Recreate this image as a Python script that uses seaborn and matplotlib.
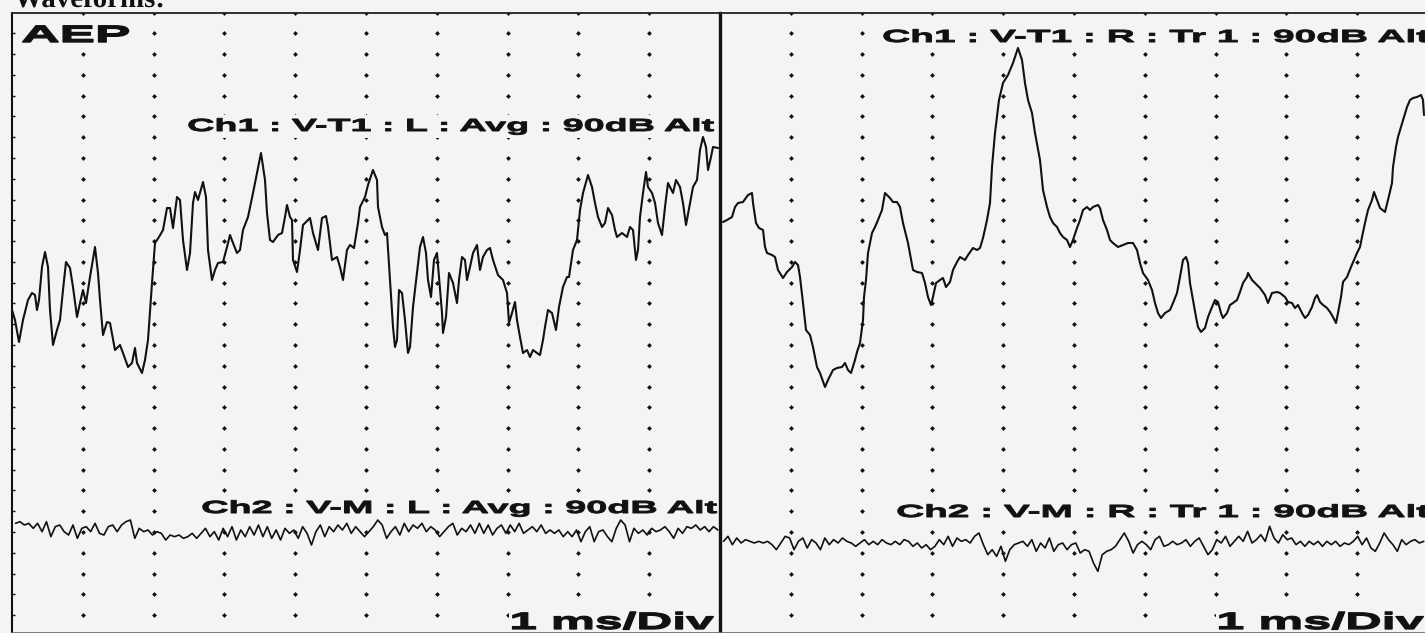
import numpy as np
import pandas as pd
import matplotlib
matplotlib.use("Agg")
import matplotlib.pyplot as plt
import matplotlib.colors as mcolors
from matplotlib.patheffects import AbstractPathEffect
from matplotlib.transforms import Affine2D
from matplotlib.path import Path
import seaborn as sns

# ---------------- data ----------------
# time axis: samples, 708 samples = 10 ms (1 ms/Div, 10 Div per panel)
SAMPLES_PER_10MS = 708.0

# Ch1 : V-T1 : L : Avg  (sample index, amplitude in display units; 20.78 units = 1 Div)
ch1_left_sample = [0, 3, 7, 11, 16, 20, 23, 25, 27, 30, 33, 36, 38, 41, 45, 48, 51, 54, 58, 61,
                   65, 68, 71, 74, 78, 83, 86, 88, 91, 95, 98, 103, 108, 111, 116, 120, 123, 125, 130, 133,
                   136, 140, 143, 147, 151, 155, 158, 161, 165, 168, 171, 175, 178, 181, 183, 186, 191, 194, 196, 200,
                   203, 206, 211, 215, 218, 221, 225, 228, 231, 236, 241, 245, 249, 253, 255, 258, 261, 266, 270, 273,
                   275, 278, 280, 281, 285, 288, 291, 298, 301, 306, 310, 314, 316, 320, 325, 328, 331, 335, 338, 342,
                   346, 348,
                   353, 356, 361, 365, 366, 370, 373, 375, 378, 381, 383, 385, 387, 390, 393, 396, 398, 401, 405, 408,
                   411, 414, 416, 419, 422, 425, 427, 430, 431, 434, 437, 441, 445, 447, 450, 453, 455, 458, 461, 465,
                   468, 471, 475, 478, 481, 486, 491, 495, 497, 500, 503, 505, 508, 511, 515, 518, 521, 525, 528, 531,
                   533, 536, 540, 544, 547, 551, 555, 557, 561, 565, 568, 571, 576, 580, 583, 586, 590, 593, 596, 600,
                   603, 605, 610, 615, 618, 621, 624, 626, 628, 631, 634, 636, 640, 643, 646, 650, 653, 656, 661, 664,
                   668, 671, 674, 678, 681, 685, 688, 691, 694, 696, 699, 701, 706]
ch1_left_amp = [90, 80, 58, 80, 100, 107, 105, 90, 100, 133, 148, 133, 90, 55, 70, 80, 110, 138, 132, 113,
                83, 97, 110, 97, 123, 153, 127, 100, 65, 78, 77, 50, 55, 47, 33, 37, 52, 37, 27, 40,
                60, 117, 157, 163, 170, 192, 192, 172, 203, 200, 160, 130, 147, 197, 208, 200, 218, 203, 150, 120,
                130, 137, 138, 153, 165, 157, 147, 150, 170, 183, 207, 227, 247, 220, 187, 160, 158, 165, 167, 183,
                195, 183, 180, 140, 128, 150, 175, 182, 167, 150, 182, 184, 173, 140, 143, 133, 120, 150, 155, 152,
                177, 193,
                203, 215, 230, 220, 193, 173, 165, 167, 120, 73, 53, 60, 110, 107, 80, 47, 53, 93, 127, 153,
                163, 147, 120, 103, 140, 147, 123, 87, 67, 83, 127, 117, 97, 120, 143, 140, 120, 133, 147, 155,
                130, 143, 150, 152, 140, 125, 120, 107, 77, 87, 98, 80, 63, 47, 50, 43, 50, 47, 45, 60,
                73, 90, 87, 70, 93, 113, 123, 123, 150, 160, 190, 207, 225, 213, 197, 183, 173, 177, 192, 185,
                170, 163, 167, 163, 173, 170, 140, 150, 183, 207, 228, 213, 207, 197, 177, 165, 193, 217, 207, 220,
                213, 197, 175, 197, 213, 220, 250, 263, 253, 230, 243, 253, 252]

# Ch1 : V-T1 : R : Tr 1
ch1_right_sample = [3, 7, 12, 15, 18, 23, 28, 32, 33, 36, 39, 43, 45, 47, 52, 55, 58, 63, 67, 72,
                    75, 78, 80, 83, 86, 90, 93, 97, 100, 105, 108, 113, 117, 122, 125, 128, 131, 135, 137, 140,
                    143, 144, 146, 148, 152, 155, 158, 162, 165, 170, 173, 177, 180, 183, 188, 193, 197, 202, 205, 208,
                    211, 213, 216, 220, 223, 226, 230, 233, 237, 240, 245, 248, 253, 257, 260, 263, 267, 270, 272, 275,
                    279, 283, 288, 293, 298, 302, 305, 308, 312, 315, 320, 323, 327, 330, 333, 337, 340, 343, 347, 350,
                    353, 357, 360, 363, 367, 370, 373, 378, 380, 383, 387, 390, 393, 398, 403, 408, 413, 417, 420, 423,
                    428, 432, 435, 438, 441, 445, 450, 453, 457, 460, 463, 466, 468, 470, 473, 476, 478, 481, 485, 488,
                    492, 495, 498, 501, 503, 507, 510, 513, 517, 520, 523, 527, 528, 532, 535, 540, 545, 548, 552, 557,
                    560, 565, 568, 572, 575, 578, 582, 585, 588, 592, 595, 597, 600, 603, 607, 610, 613, 616, 618, 621,
                    623, 627, 631, 634, 637, 640, 642, 645, 648, 652, 654, 657, 660, 665, 668, 672, 673, 676, 678, 681,
                    683, 687, 690, 693, 697, 701, 703, 704]
ch1_right_amp = [178, 180, 183, 193, 197, 198, 205, 207, 197, 177, 172, 170, 153, 147, 145, 143, 130, 122, 128, 133,
                 138, 135, 123, 97, 70, 65, 53, 33, 27, 13, 20, 30, 32, 33, 37, 30, 27, 40, 48, 57,
                 80, 103, 120, 147, 167, 173, 180, 190, 207, 202, 198, 198, 193, 177, 157, 130, 128, 127, 117, 103,
                 95, 103, 117, 120, 122, 113, 118, 130, 138, 143, 140, 145, 152, 150, 152, 162, 180, 197, 233, 267,
                 300, 317, 325, 337, 352, 340, 317, 300, 287, 267, 240, 210, 193, 183, 177, 173, 167, 163, 160, 153,
                 160, 172, 180, 190, 193, 190, 193, 195, 192, 180, 170, 160, 157, 153, 155, 157, 157, 150, 137, 127,
                 120, 110, 97, 87, 82, 87, 90, 97, 107, 123, 140, 143, 137, 117, 100, 83, 73, 68, 72, 83,
                 93, 100, 98, 87, 82, 87, 95, 97, 100, 108, 117, 123, 127, 120, 117, 112, 105, 97, 107, 108,
                 107, 103, 98, 97, 92, 95, 87, 82, 85, 93, 102, 105, 98, 95, 92, 88, 83, 77, 87, 103,
                 118, 123, 133, 140, 147, 153, 163, 177, 190, 200, 208, 200, 192, 188, 200, 217, 233, 253, 263, 273,
                 280, 293, 300, 302, 303, 305, 300, 285]

# Ch2 : V-M (evenly sampled, amplitude in small units; 62.34 units = 1 Div)
ch2_left_amp = [20, 25, 15, 20, 5, 20, -5, 25, -20, 10, 15, -5, -15, 15, -25, 5, 10, -5, 20, -10,
                -15, 10, 15, -5, 15, 25, 30, -25, 5, -5, 0, -15, -5, -10, -30, -15, -20, -15, -25, -20,
                -10, -25, -10, 5, -20, -5, -30, 5, -20, 10, -30, 0, -20, 10, -15, 15, -20, 10, -25, 0,
                -30, 5, -10, 0, -25, 10, -10, -45, -5, 15, -20, 10, -5, 15, 0, 20, -10, 10, -5, -20,
                -5, 10, 30, 15, -25, -5, 10, -15, 20, -5, 15, 5, 20, -5, 10, 0, -20, -5, 10, 20,
                -15, 5, -5, 15, -10, 20, -10, 15, -15, 5, 15, -10, 15, -5, 20, -10, 0, 10, -5, 15,
                -10, 0, -10, 0, -20, -5, -20, 0, -35, -5, 10, -35, -5, 0, -20, -35, 5, 30, 15, -35,
                5, -10, 0, -15, 5, -5, 0, 10, -5, -25, 5, -10, 10, 5, 15, 0, 10, -5, 10, 0]
ch2_right_amp = [5, 20, -5, 15, 0, 10, 5, 0, 5, 0, 5, -5, -20, 0, 20, 15, -20, 5, 15, -15,
                 10, 0, -20, 15, -5, 10, 0, 15, 5, 0, -10, 0, 10, -5, 5, -5, 10, 0, -5, 5,
                 -5, 10, 5, -10, 0, -15, -5, -20, -10, 10, -5, 20, -10, 15, 5, 10, 0, 20, 30, -5,
                 -35, -20, -40, -10, -55, -20, -5, 0, 5, -10, 10, -25, 0, -15, 15, -25, -5, 0, -20, -5,
                 0, -30, -20, -25, -60, -85, -35, -25, -20, -10, 10, 30, 5, -30, -5, 5, -5, -20, 10, 20,
                 -10, -5, 5, -5, 0, 10, -10, 5, 15, -10, -35, -20, 10, 0, 20, -10, 5, 20, 5, 35,
                 0, 10, 25, 5, 50, 15, 0, 25, 10, 15, -5, 5, -10, 5, -5, 5, -10, 5, -5, 5,
                 -10, 0, -5, 5, 20, -5, 15, -15, -25, 0, 30, 10, -5, -25, 10, -5, 5, 10, 0, 5]

panel_duration_ms = [10.0, 705 / 70.8]  # right panel is cut at the image edge
ch2_left_end_ms = 9.97
ch2_right_end_ms = 9.94

labels_left = ["AEP", "Ch1 : V-T1 : L : Avg : 90dB Alt", "Ch2 : V-M : L : Avg : 90dB Alt", "1 ms/Div"]
labels_right = ["Ch1 : V-T1 : R : Tr 1 : 90dB Alt", "Ch2 : V-M : R : Tr 1 : 90dB Alt", "1 ms/Div"]
title_text = "Waveforms:"

# ---------------- layout constants ----------------
W, H = 1425, 633
DIV_PX = 20.78
TOP_PX = 12.5
UNITS_PER_DIV_CH1 = DIV_PX
UNITS_PER_DIV_CH2 = DIV_PX * 3
CH1_OFFSET = 30 - (400 - TOP_PX) / DIV_PX
CH2_LEFT_OFFSET = 30 - (530 - TOP_PX) / DIV_PX
CH2_RIGHT_OFFSET = 30 - (543 - TOP_PX) / DIV_PX
PAPER = "#f4f4f2"
INK = "#111111"

sns.set_theme(style="white")
plt.rcParams["font.family"] = ["Liberation Sans", "DejaVu Sans"]


class FitWidth(AbstractPathEffect):
    """Stretch a text horizontally so its ink spans a given width (screen-font look)."""

    def __init__(self, width_px, bg=None, pad=(3, 3), stroke=0.0):
        super().__init__()
        self.width_px = width_px
        self.bg = None if bg is None else mcolors.to_rgba(bg)
        self.pad = pad
        self.stroke = stroke

    def draw_path(self, renderer, gc, tpath, affine, rgbFace=None):
        ext = tpath.get_extents(affine)
        k = renderer.dpi / 100.0
        sx = (self.width_px * k) / ext.width if ext.width > 0 else 1.0
        stretch = Affine2D().translate(-ext.x0, 0).scale(sx, 1).translate(ext.x0, 0)
        new_affine = affine + stretch
        if self.bg is not None:
            e = tpath.get_extents(new_affine)
            px, py = self.pad[0] * k, self.pad[1] * k
            rect = Path([(e.x0 - px, e.y0 - py), (e.x1 + px, e.y0 - py), (e.x1 + px, e.y1 + py),
                         (e.x0 - px, e.y1 + py), (e.x0 - px, e.y0 - py)], closed=True)
            gc_bg = renderer.new_gc()
            gc_bg.copy_properties(gc)
            gc_bg.set_linewidth(0)
            renderer.draw_path(gc_bg, rect, Affine2D(), self.bg)
        gc_t = renderer.new_gc()
        gc_t.copy_properties(gc)
        if self.stroke > 0 and rgbFace is not None:
            gc_t.set_linewidth(self.stroke)
            gc_t.set_foreground(rgbFace)
            gc_t.set_joinstyle("round")
        renderer.draw_path(gc_t, tpath, new_affine, rgbFace)


fig = plt.figure(figsize=(W / 100, H / 100), dpi=100, facecolor=PAPER)
ax_h = (H - TOP_PX) / H
axL = fig.add_axes([12 / W, 0, (720 - 12) / W, ax_h])
axR = fig.add_axes([720 / W, 0, (W - 720) / W, ax_h])
y_bottom = 30 - (H - TOP_PX) / DIV_PX

for ax, dur in zip([axL, axR], panel_duration_ms):
    ax.set_facecolor("none")
    ax.set_xlim(0, dur)
    ax.set_ylim(y_bottom, 30)
    ax.set_xticks([])
    # grid of dots: 1 ms columns x 1 Div rows
    cols = np.arange(1, 10)
    rows = np.arange(1, 31)
    gx, gy = np.meshgrid(cols, rows)
    sns.scatterplot(x=gx.ravel(), y=gy.ravel(), ax=ax, marker="D", s=6, color=INK,
                    linewidth=0, zorder=1, legend=False)
    for s in ["top", "bottom", "left", "right"]:
        ax.spines[s].set_visible(True)
    ax.spines["top"].set_linewidth(1.3)
    ax.spines["top"].set_color("#222222")
    ax.spines["bottom"].set_linewidth(1.2)
    ax.spines["bottom"].set_color("#666666")
    ax.set_xlabel("")
    ax.set_ylabel("")

axL.spines["left"].set_linewidth(1.5)
axL.spines["left"].set_color(INK)
axL.spines["right"].set_linewidth(2.4)
axL.spines["right"].set_color(INK)
axR.spines["left"].set_visible(False)
axR.spines["right"].set_visible(False)
axL.set_yticks(np.arange(1, 30))
axL.set_yticklabels([])
axL.tick_params(axis="y", direction="in", length=2.5, width=1.0, color=INK, left=True, pad=0)
axR.set_yticks([])

# ---------------- traces ----------------
t_scale = 10.0 / SAMPLES_PER_10MS
df_l1 = pd.DataFrame({"t": np.array(ch1_left_sample) * t_scale,
                      "v": CH1_OFFSET + np.array(ch1_left_amp) / UNITS_PER_DIV_CH1})
df_r1 = pd.DataFrame({"t": np.array(ch1_right_sample) * t_scale,
                      "v": CH1_OFFSET + np.array(ch1_right_amp) / UNITS_PER_DIV_CH1})
df_l2 = pd.DataFrame({"t": np.linspace(0.05, ch2_left_end_ms, len(ch2_left_amp)),
                      "v": CH2_LEFT_OFFSET + np.array(ch2_left_amp) / UNITS_PER_DIV_CH2})
df_r2 = pd.DataFrame({"t": np.linspace(0.05, ch2_right_end_ms, len(ch2_right_amp)),
                      "v": CH2_RIGHT_OFFSET + np.array(ch2_right_amp) / UNITS_PER_DIV_CH2})

for df, ax, lw in [(df_l1, axL, 1.5), (df_r1, axR, 1.5), (df_l2, axL, 1.2), (df_r2, axR, 1.2)]:
    sns.lineplot(data=df, x="t", y="v", ax=ax, color=INK, linewidth=lw, estimator=None,
                 sort=False, zorder=3, legend=False)
    ax.set_xlabel("")
    ax.set_ylabel("")


# ---------------- texts ----------------
def put(ax, s, x_px, base_px, width_px, size, stroke=0.7):
    ax.text(x_px / W, 1 - base_px / H, s, transform=fig.transFigure, ha="left", va="baseline",
            fontsize=size, fontweight="bold", color=INK, zorder=2,
            path_effects=[FitWidth(width_px, bg=PAPER, pad=(3, 3), stroke=stroke)])


put(axL, labels_left[0], 22, 42, 106, 17, stroke=1.0)
put(axL, labels_left[1], 188, 131, 525, 12.6)
put(axL, labels_left[2], 202, 513, 514, 12.6)
put(axL, labels_left[3], 511, 629, 201, 17, stroke=0.9)
put(axR, labels_right[0], 883, 42, 545, 12.6)
put(axR, labels_right[1], 897, 517, 531, 12.6)
put(axR, labels_right[2], 1218, 629, 204, 17, stroke=0.9)

fig.text(14 / W, 1 - 7 / H, title_text, ha="left", va="baseline", fontsize=20,
         fontweight="bold", family=["Liberation Serif", "DejaVu Serif"], color=INK,
         path_effects=[FitWidth(148)])

fig.savefig("out.png", dpi=100, facecolor=PAPER)
